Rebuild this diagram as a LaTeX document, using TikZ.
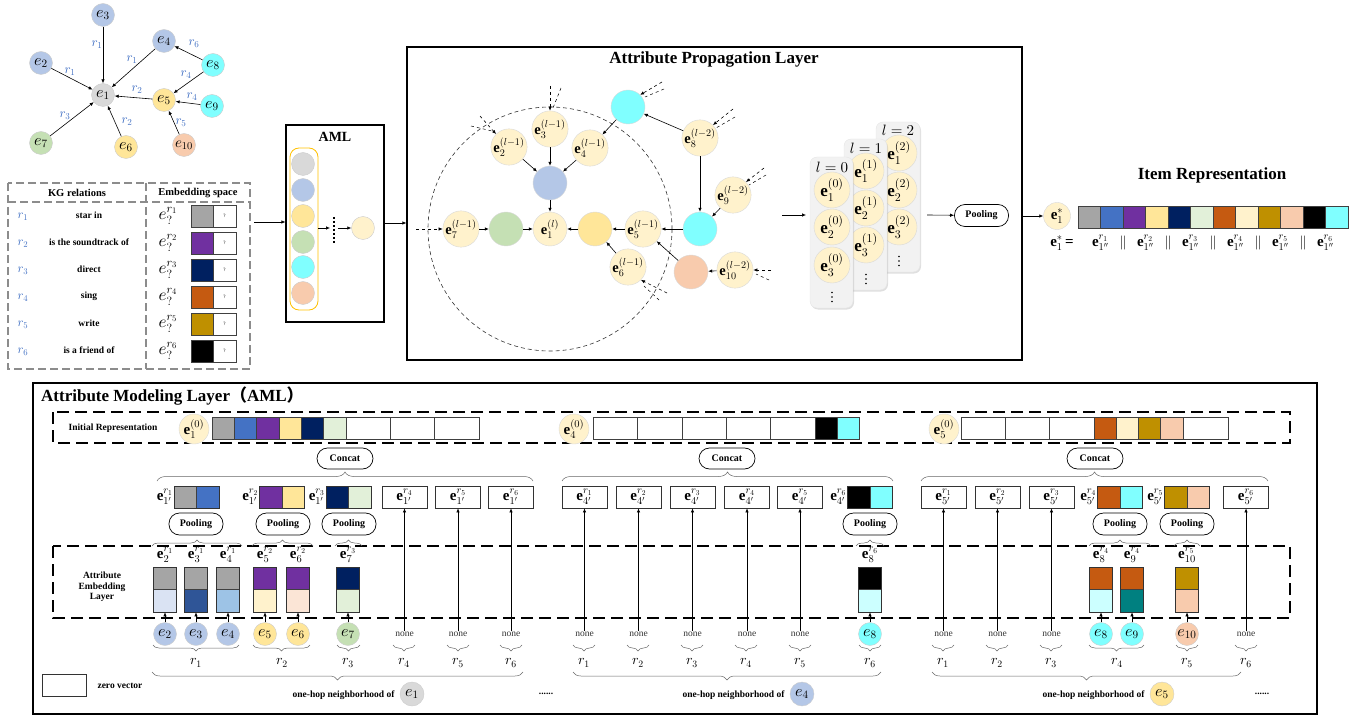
\documentclass[tikz,border=0pt]{standalone}
\usepackage{fontspec}
\setmainfont{Liberation Serif}
\newfontfamily\cjk{Noto Sans CJK SC}
\DeclareFontShape{OML}{cmm}{m}{it}{<->cmmi10}{}
\DeclareFontShape{OML}{cmm}{b}{it}{<->cmmib10}{}
\DeclareFontShape{OT1}{cmr}{m}{n}{<->cmr10}{}
\DeclareFontShape{OT1}{cmr}{bx}{n}{<->cmbx10}{}
\DeclareFontShape{OMS}{cmsy}{m}{n}{<->cmsy10}{}
\DeclareFontShape{OMX}{cmex}{m}{n}{<->cmex10}{}
\usetikzlibrary{arrows.meta,decorations.pathreplacing,shadows}
\definecolor{cgray}{HTML}{A5A5A5}
\definecolor{cblue}{HTML}{4472C4}
\definecolor{cpurple}{HTML}{7030A0}
\definecolor{cyel}{HTML}{FFE699}
\definecolor{cnavy}{HTML}{002060}
\definecolor{cltgreen}{HTML}{E2F0D9}
\definecolor{corange}{HTML}{C55A11}
\definecolor{cltyel}{HTML}{FFF2CC}
\definecolor{cgold}{HTML}{BF9000}
\definecolor{csalmon}{HTML}{F8CBAD}
\definecolor{ccyan}{HTML}{80FFFF}
\definecolor{ngray}{HTML}{D9D9D9}
\definecolor{nblue}{HTML}{B4C7E7}
\definecolor{ngreen}{HTML}{C5E0B4}
\definecolor{rblue}{HTML}{4472C4}
\definecolor{blA}{HTML}{DAE3F3}
\definecolor{blB}{HTML}{2F5597}
\definecolor{blC}{HTML}{9DC3E6}
\definecolor{pkA}{HTML}{FBE5D6}
\definecolor{ltcyan}{HTML}{CCFFFF}
\definecolor{tealB}{HTML}{008080}
\definecolor{stackbg}{HTML}{F2F2F2}
\definecolor{amlyel}{HTML}{FFC000}
\tikzset{
 arr/.style={-{Latex[length=4pt,width=3.4pt]},line width=0.6pt},
 kgn/.style={circle,minimum size=23pt,inner sep=0pt,draw=black!20,line width=0.4pt,font=\fontsize{16}{16}\selectfont},
 rl/.style={text=rblue,font=\fontsize{13}{13}\selectfont,inner sep=0pt},
 apn/.style={circle,minimum size=34pt,inner sep=0pt,draw=black!15,line width=0.4pt,fill=cltyel,font=\fontsize{14.5}{14.5}\selectfont},
 stn/.style={circle,minimum size=36pt,inner sep=0pt,draw=black!15,line width=0.4pt,fill=cltyel,font=\fontsize{17}{17}\selectfont},
 stk/.style={fill=stackbg,draw=black!10,line width=0.4pt,rounded corners=7pt,drop shadow={shadow xshift=1pt,shadow yshift=-1.5pt,opacity=0.25}},
 poolbox/.style={draw,line width=0.7pt,rounded corners=10.5pt,minimum width=54pt,minimum height=22pt,inner sep=0pt,font=\bfseries\fontsize{10}{10}\selectfont},
 concatbox/.style={draw,line width=0.7pt,rounded corners=10.5pt,minimum width=56pt,minimum height=21pt,inner sep=0pt,font=\bfseries\fontsize{10}{10}\selectfont},
 wbox/.style={draw=black!80,line width=0.7pt,minimum width=45pt,minimum height=22pt,inner sep=0pt,font=\fontsize{15}{15}\selectfont},
 pbox/.style={draw=black!80,line width=0.7pt,minimum width=45pt,minimum height=22pt,inner sep=0pt},
 cellline/.style={draw=black!75,line width=0.6pt},
 dbox/.style={dash pattern=on 12pt off 6pt,line width=1.8pt},
 tbl/.style={draw=black!45,dash pattern=on 8pt off 4pt,line width=1.2pt},
 brup/.style={decorate,decoration={brace,amplitude=#1},draw=black!60,line width=0.5pt},
 brdn/.style={decorate,decoration={brace,amplitude=#1,mirror},draw=black!60,line width=0.5pt},
 lab/.style={font=\fontsize{15}{15}\selectfont,inner sep=1pt},
 nonet/.style={font=\fontsize{9.5}{9.5}\selectfont,text=black!80,inner sep=1pt},
 rlab/.style={font=\fontsize{14}{14}\selectfont,inner sep=0pt},
 hdr/.style={font=\bfseries\fontsize{10.5}{10.5}\selectfont},
 rowt/.style={font=\bfseries\fontsize{9.5}{9.5}\selectfont},
 dsh/.style={dashed,line width=0.5pt},
 icirc/.style={circle,minimum size=30pt,inner sep=0pt,draw=black!15,fill=cltyel,font=\fontsize{15}{15}\selectfont},
}
\newcommand\pairbox[5]{%
 \fill[#4] ({#2-22.5},{#3-11}) rectangle (#2,{#3+11});
 \fill[#5] (#2,{#3-11}) rectangle ({#2+22.5},{#3+11});
 \draw[cellline] (#2,{#3-11}) -- (#2,{#3+11});
 \node[pbox] (#1) at (#2,#3) {};}
\newcommand\entbox[5]{%
 \fill[#3] ({#2-11.5},567) rectangle ({#2+11.5},589.5);
 \fill[#4] ({#2-11.5},589.5) rectangle ({#2+11.5},612);
 \draw[cellline] ({#2-11.5},589.5) -- ({#2+11.5},589.5);
 \node[draw=black!80,line width=0.6pt,minimum width=23pt,minimum height=45pt,inner sep=0pt] (#1) at (#2,589.5) {};
 \node[lab] (#1l) at (#2,555) {#5};}
\newcommand\vdotsat[2]{%
 \foreach \k in {-4.5,0,4.5} \fill ({#1},{#2+\k}) circle[radius=0.9];}
\begin{document}
\begin{tikzpicture}[x=1pt,y=-1pt]
\useasboundingbox (0,0) rectangle (1364,719);
% ================= top-left KG graph
\node[kgn,fill=ngray] (g1) at (103,95) {$e_1$};
\node[kgn,fill=nblue] (g2) at (41,63) {$e_2$};
\node[kgn,fill=nblue] (g3) at (103,15) {$e_3$};
\node[kgn,fill=nblue] (g4) at (164,41) {$e_4$};
\node[kgn,fill=cyel] (g5) at (164,100) {$e_5$};
\node[kgn,fill=cyel] (g6) at (126,147) {$e_6$};
\node[kgn,fill=ngreen] (g7) at (41,143) {$e_7$};
\node[kgn,fill=ccyan] (g8) at (213,65) {$e_8$};
\node[kgn,fill=ccyan] (g9) at (212,106) {$e_9$};
\node[kgn,fill=csalmon,font=\fontsize{15}{15}\selectfont] (g10) at (184,145) {$e_{10}$};
\draw[arr] (g3) -- (g1);
\draw[arr] (g2) -- (g1);
\draw[arr] (g4) -- (g1);
\draw[arr] (g5) -- (g1);
\draw[arr] (g7) -- (g1);
\draw[arr] (g6) -- (g1);
\draw[arr] (g8) -- (g4);
\draw[arr] (g8) -- (g5);
\draw[arr] (g9) -- (g5);
\draw[arr] (g10) -- (g5);
\node[rl] (l31) at (97,45) {$r_1$};
\node[rl] (l21) at (70,72) {$r_1$};
\node[rl] (l41) at (132,60) {$r_1$};
\node[rl] (l51) at (137,90) {$r_2$};
\node[rl] (l71) at (65,116) {$r_3$};
\node[rl] (l61) at (127,122) {$r_2$};
\node[rl] (l84) at (194,44) {$r_6$};
\node[rl] (l85) at (186,75) {$r_4$};
\node[rl] (l95) at (192,97) {$r_4$};
\node[rl] (l105) at (181,123) {$r_5$};
% ================= KG relations table
\draw[tbl] (8,183) rectangle (250,369);
\draw[tbl] (146,183) -- (146,369);
\draw[tbl] (8,202) -- (250,202);
\node[hdr] (h1) at (77,193) {KG relations};
\node[hdr] (h2) at (198,193) {Embedding space};
\foreach \y/\r/\t/\c in {216/1/star in/cgray,243/2/is the soundtrack of/cpurple,270/3/direct/cnavy,297/4/sing/corange,324/5/write/cgold,351/6/is a friend of/black} {
  \node[rl,font=\fontsize{12.5}{12.5}\selectfont] (tr\r) at (23,{\y+1}) {$r_{\r}$};
  \node[rowt] (tt\r) at (89,{\y-1}) {\t};
  \node[font=\fontsize{17}{17}\selectfont,inner sep=0pt] (te\r) at (168,\y) {$e_?^{r_{\r}}$};
  \fill[\c] (191,{\y-11}) rectangle (213,{\y+11});
  \draw[cellline] (191,{\y-11}) rectangle (236,{\y+11});
  \draw[cellline] (213,{\y-11}) -- (213,{\y+11});
  \node[font=\fontsize{5}{5}\selectfont,inner sep=0pt] (tq\r) at (224.5,\y) {?};
}
% ================= AML small box
\node[draw,line width=1.1pt,minimum width=98pt,minimum height=197pt,inner sep=0pt] (aml) at (335,223.5) {};
\node[font=\bfseries\fontsize{14}{14}\selectfont] (amlt) at (335,137) {AML};
\draw[amlyel,line width=0.8pt,rounded corners=9pt] (290,148) rectangle (318,310);
\foreach \y/\c [count=\i] in {164/ngray,190/nblue,216/cyel,242/ngreen,267/ccyan,293/csalmon}
  \node[kgn,fill=\c] (am\i) at (303,\y) {};
\coordinate (amA) at (318,228);
\coordinate (amB) at (330,228);
\draw[arr] (amA) -- (amB);
\draw[line width=2pt,dash pattern=on 2pt off 2pt] (334,217) -- (334,243);
\coordinate (amC) at (338,228);
\node[kgn,fill=cltyel] (amout) at (363,228) {};
\draw[arr] (amC) -- (amout);
\coordinate (tblout) at (254,222);
\draw[arr] (tblout) -- (tblout -| aml.west);
% ================= Attribute Propagation Layer
\node[draw,line width=1.1pt,minimum width=615pt,minimum height=313pt,inner sep=0pt] (apl) at (714.5,203.5) {};
\draw[arr] (aml.east |- 0,223) -- (apl.west |- 0,223);
\node[font=\bfseries\fontsize{17}{17}\selectfont] (aplt) at (714,59) {Attribute Propagation Layer};
\draw[dash pattern=on 4pt off 3pt,line width=0.6pt,black!80] (550,229) circle[radius=122];
\node[apn] (a3) at (550,129) {$\mathbf{e}_3^{(l-1)}$};
\node[apn] (a2) at (509,147) {$\mathbf{e}_2^{(l-1)}$};
\node[apn] (a4) at (590,148) {$\mathbf{e}_4^{(l-1)}$};
\node[apn,fill=nblue] (ab) at (550,183) {};
\node[apn] (a1) at (550,229) {$\mathbf{e}_1^{(l)}$};
\node[apn,fill=ngreen] (agr) at (506,229) {};
\node[apn] (a7) at (461,229) {$\mathbf{e}_7^{(l-1)}$};
\node[apn,fill=cyel] (ayl) at (595,229) {};
\node[apn] (a5) at (643,229) {$\mathbf{e}_5^{(l-1)}$};
\node[apn] (a6) at (628,267) {$\mathbf{e}_6^{(l-1)}$};
\node[apn,fill=ccyan] (acy1) at (628,107) {};
\node[apn] (a8) at (700,138) {$\mathbf{e}_8^{(l-2)}$};
\node[apn,fill=ccyan] (acy2) at (700,229) {};
\node[apn] (a9) at (733,195) {$\mathbf{e}_9^{(l-2)}$};
\node[apn,fill=csalmon] (asal) at (691,272) {};
\node[apn] (a10) at (735,270) {$\mathbf{e}_{10}^{(l-2)}$};
\draw[arr] (a2) -- (ab);
\draw[arr] (a3) -- (ab);
\draw[arr] (a4) -- (ab);
\draw[arr] (ab) -- (a1);
\draw[arr] (agr) -- (a1);
\draw[arr] (a7) -- (agr);
\draw[arr] (ayl) -- (a1);
\draw[arr] (a5) -- (ayl);
\draw[arr] (a6) -- (ayl);
\draw[arr] (acy1) -- (a4);
\draw[arr] (a8) -- (acy1);
\draw[arr] (a8) -- (acy2);
\draw[arr] (a9) -- (acy2);
\draw[arr] (acy2) -- (a5);
\draw[arr] (asal) -- (a5);
\draw[arr] (a10) -- (asal);
% dashed incoming
\coordinate (d3a) at (550,86); \coordinate (d3b) at (561,88); \coordinate (d3c) at (553,108);
\draw[dsh,arr] (d3a) -- (a3.north); \draw[dsh] (d3b) -- (d3c);
\coordinate (d2a) at (480,116); \coordinate (d2b) at (471,126); \coordinate (d2c) at (492,131);
\draw[dsh,arr] (d2a) -- (a2.north west); \draw[dsh] (d2b) -- (d2c);
\coordinate (d7a) at (416,229);
\draw[dsh,arr] (d7a) -- (a7.west);
\coordinate (d6a) at (667,293); \coordinate (d6b) at (659,300); \coordinate (d6c) at (644,286);
\draw[dsh,arr] (d6a) -- (a6.south east); \draw[dsh] (d6b) -- (d6c);
\coordinate (dca) at (662,82); \coordinate (dcb) at (664,89); \coordinate (dcc) at (645,97);
\draw[dsh,arr] (dca) -- (acy1.north east); \draw[dsh] (dcb) -- (dcc);
\coordinate (d8a) at (733,109); \coordinate (d8b) at (735,117); \coordinate (d8c) at (716,128);
\draw[dsh,arr] (d8a) -- (a8.north east); \draw[dsh] (d8b) -- (d8c);
\coordinate (d9a) at (764,168); \coordinate (d9b) at (766,175); \coordinate (d9c) at (749,185);
\draw[dsh,arr] (d9a) -- (a9.north east); \draw[dsh] (d9b) -- (d9c);
\coordinate (d10a) at (771,270); \coordinate (d10b) at (769,280); \coordinate (d10c) at (756,274);
\draw[dsh,arr] (d10a) -- (a10.east); \draw[dsh] (d10b) -- (d10c);
% layer stacks
\coordinate (sA) at (782,215); \coordinate (sB) at (806,215);
\draw[arr] (sA) -- (sB);
\node[stk,minimum width=44pt,minimum height=150pt,inner sep=0pt] (st2) at (898,197) {};
\node[font=\fontsize{15}{15}\selectfont,inner sep=0pt] (st2l) at (898,130) {$l=2$};
\node[stn] (s21) at (899,153) {$\mathbf{e}_1^{(2)}$};
\node[stn] (s22) at (899,190) {$\mathbf{e}_2^{(2)}$};
\node[stn] (s23) at (899,227) {$\mathbf{e}_3^{(2)}$};
\vdotsat{899}{261}
\node[stk,minimum width=43pt,minimum height=151pt,inner sep=0pt] (st1) at (865.5,214.5) {};
\node[font=\fontsize{15}{15}\selectfont,inner sep=0pt] (st1l) at (866,148) {$l=1$};
\node[stn] (s11) at (866,171) {$\mathbf{e}_1^{(1)}$};
\node[stn] (s12) at (866,208) {$\mathbf{e}_2^{(1)}$};
\node[stn] (s13) at (866,245) {$\mathbf{e}_3^{(1)}$};
\vdotsat{866}{279}
\node[stk,minimum width=43pt,minimum height=151pt,inner sep=0pt] (st0) at (831.5,232.5) {};
\node[font=\fontsize{15}{15}\selectfont,inner sep=0pt] (st0l) at (832,167) {$l=0$};
\node[stn] (s01) at (832,190) {$\mathbf{e}_1^{(0)}$};
\node[stn] (s02) at (832,227) {$\mathbf{e}_2^{(0)}$};
\node[stn] (s03) at (832,265) {$\mathbf{e}_3^{(0)}$};
\vdotsat{832}{297}
\coordinate (pA) at (927,215);
\node[poolbox] (ptop) at (981.5,215.5) {Pooling};
\draw[arr] (pA) -- (ptop);
% ================= Item representation
\node[circle,minimum size=27pt,inner sep=0pt,draw=black!15,line width=0.4pt,fill=cltyel,font=\fontsize{15}{15}\selectfont] (estar) at (1057,216) {$\mathbf{e}_1^{*}$};
\draw[arr] (apl.east |- estar) -- (estar);
\node[font=\bfseries\fontsize{17}{17}\selectfont] (itemt) at (1212,175) {Item Representation};
\foreach \c [count=\i from 0] in {cgray,cblue,cpurple,cyel,cnavy,cltgreen,corange,cltyel,cgold,csalmon,black,ccyan}
  \filldraw[fill=\c,cellline] ({1078+22.5*\i},206) rectangle ({1100.5+22.5*\i},228);
\node[font=\fontsize{15}{15}\selectfont] (feq) at (1062,243) {$\mathbf{e}_1^{*}$\,\textbf{=}};
\foreach \i in {1,...,6}
  \node[font=\fontsize{15}{15}\selectfont] (fe\i) at ({1100.5+45*(\i-1)},243) {$\mathbf{e}_{1''}^{r_{\i}}$};
\foreach \i in {1,...,5}
  \node[font=\fontsize{14}{14}\selectfont] (fb\i) at ({1123+45*(\i-1)},243) {$\|$};
% ================= Attribute Modeling Layer (bottom)
\node[draw,line width=1.1pt,minimum width=1284pt,minimum height=331pt,inner sep=0pt] (bot) at (675,548.5) {};
\node[anchor=west,font=\bfseries\fontsize{17}{17}\selectfont,inner sep=0pt] (bott) at (41,396) {Attribute Modeling Layer{\cjk （}AML{\cjk ）}};
\draw[dbox] (53,412) rectangle (1290,443);
\draw[dbox] (53,546) rectangle (1290,618);
\node[rowt] (irl) at (113,428) {Initial Representation};
\node[rowt,align=center] (ael) at (102,587) {Attribute\\[1pt]Embedding\\[1pt]Layer};
% initial representations
\node[icirc] (i1) at (194,429) {$\mathbf{e}_1^{(0)}$};
\node[icirc] (i4) at (574,429) {$\mathbf{e}_4^{(0)}$};
\node[icirc] (i5) at (944,429) {$\mathbf{e}_5^{(0)}$};
\foreach \c [count=\i from 0] in {cgray,cblue,cpurple,cyel,cnavy,cltgreen}
  \filldraw[fill=\c,cellline] ({212+22.33*\i},417) rectangle ({234.33+22.33*\i},439);
\foreach \i in {0,1,2}
  \draw[cellline] ({346+44.33*\i},417) rectangle ({390.33+44.33*\i},439);
\foreach \i in {0,...,4}
  \draw[cellline] ({593+44.4*\i},417) rectangle ({637.4+44.4*\i},439);
\filldraw[fill=black,cellline] (815,417) rectangle (837.2,439);
\filldraw[fill=ccyan,cellline] (837.2,417) rectangle (859.4,439);
\foreach \i in {0,1,2}
  \draw[cellline] ({961+44.33*\i},417) rectangle ({1005.33+44.33*\i},439);
\foreach \c [count=\i from 0] in {corange,cltyel,cgold,csalmon}
  \filldraw[fill=\c,cellline] ({1094+22.2*\i},417) rectangle ({1116.2+22.2*\i},439);
\draw[cellline] (1182.8,417) rectangle (1228,439);
% concat
\node[concatbox] (c1) at (345,458.5) {Concat};
\node[concatbox] (c2) at (727,458.5) {Concat};
\node[concatbox] (c3) at (1095,458.5) {Concat};
\draw[brup=9pt] (157,481) -- (533,481);
\draw[brup=9pt] (562,481) -- (893,481);
\draw[brup=9pt] (921,481) -- (1268,481);
% e' row
\pairbox{p1a}{196.5}{497}{cgray}{cblue}
\pairbox{p1b}{282}{497}{cpurple}{cyel}
\pairbox{p1c}{348.5}{497}{cnavy}{cltgreen}
\pairbox{p4f}{870}{497}{black}{ccyan}
\pairbox{p5d}{1120}{497}{corange}{ccyan}
\pairbox{p5e}{1187}{497}{cgold}{csalmon}
\node[lab,anchor=east,inner sep=0.5pt] (p1al) at (p1a.west) {$\mathbf{e}_{1'}^{r_1}$};
\node[lab,anchor=east,inner sep=0.5pt] (p1bl) at (p1b.west) {$\mathbf{e}_{1'}^{r_2}$};
\node[lab,anchor=east,inner sep=0.5pt] (p1cl) at (p1c.west) {$\mathbf{e}_{1'}^{r_3}$};
\node[lab,anchor=east,inner sep=0.5pt] (p4fl) at (p4f.west) {$\mathbf{e}_{4'}^{r_6}$};
\node[lab,anchor=east,inner sep=0.5pt] (p5dl) at (p5d.west) {$\mathbf{e}_{5'}^{r_4}$};
\node[lab,anchor=east,inner sep=0.5pt] (p5el) at (p5e.west) {$\mathbf{e}_{5'}^{r_5}$};
\foreach \n/\x/\s/\r in {w1d/404.5/1/4,w1e/458/1/5,w1f/511/1/6,w4a/584.5/4/1,w4b/638.5/4/2,w4c/692.5/4/3,w4d/747/4/4,w4e/800/4/5,w5a/943.5/5/1,w5b/997.5/5/2,w5c/1051.5/5/3,w5f/1246/5/6} {
  \node[wbox] (\n) at (\x,497) {$\mathbf{e}_{\s'}^{r_{\r}}$};
  \node[nonet] (\n n) at (\x,634) {none};
  \draw[arr] (\n n.north) -- (\n.south);
}
% pooling
\node[poolbox] (q1) at (196,524) {Pooling};
\node[poolbox] (q2) at (283,524) {Pooling};
\node[poolbox] (q3) at (349,524) {Pooling};
\node[poolbox] (q4) at (870,524) {Pooling};
\node[poolbox] (q5) at (1120,524) {Pooling};
\node[poolbox] (q6) at (1187,524) {Pooling};
\foreach \a/\b in {152/242,252/313,335/362,856/884,1089/1151,1174/1200}
  \draw[brup=6pt] (\a,546) -- (\b,546);
% attribute embeddings
\entbox{b12}{165}{cgray}{blA}{$\mathbf{e}_2^{r_1}$}
\entbox{b13}{196}{cgray}{blB}{$\mathbf{e}_3^{r_1}$}
\entbox{b14}{228}{cgray}{blC}{$\mathbf{e}_4^{r_1}$}
\entbox{b15}{265}{cpurple}{cltyel}{$\mathbf{e}_5^{r_2}$}
\entbox{b16}{298}{cpurple}{pkA}{$\mathbf{e}_6^{r_2}$}
\entbox{b17}{348}{cnavy}{cltgreen}{$\mathbf{e}_7^{r_3}$}
\entbox{b48}{870}{black}{ltcyan}{$\mathbf{e}_8^{r_6}$}
\entbox{b58}{1101}{corange}{ltcyan}{$\mathbf{e}_8^{r_4}$}
\entbox{b59}{1132}{corange}{tealB}{$\mathbf{e}_9^{r_4}$}
\entbox{b510}{1187}{cgold}{csalmon}{$\mathbf{e}_{10}^{r_5}$}
\foreach \n/\x/\c/\t in {b12/165/nblue/2,b13/196/nblue/3,b14/228/nblue/4,b15/265/cyel/5,b16/298/cyel/6,b17/348/ngreen/7,b48/870/ccyan/8,b58/1101/ccyan/8,b59/1132/ccyan/9,b510/1187/csalmon/10} {
  \node[kgn,fill=\c] (\n c) at (\x,634) {$e_{\t}$};
  \draw[arr] (\n c.north) -- (\n.south);
}
% relation braces
\foreach \a/\b/\x/\r in {153/239/196/1,253/310/282/2,337/360/348/3,393/415/404/4,447/469/458/5,500/522/511/6,
  573/595/584/1,627/649/638/2,681/703/692/3,735/757/746/4,789/811/800/5,859/881/870/6,
  932/954/943/1,986/1008/997/2,1040/1062/1051/3,1089/1144/1117/4,1176/1198/1187/5,1235/1257/1246/6} {
  \draw[brdn=6pt] (\a,645) -- (\b,645);
  \node[rlab] (rr\a) at (\x,663) {$r_{\r}$};
}
\draw[brdn=8pt] (152,672) -- (523,672);
\draw[brdn=8pt] (573,672) -- (881,672);
\draw[brdn=8pt] (932,672) -- (1241,672);
\node[kgn,fill=ngray,minimum size=24pt] (o1) at (412,694) {$e_1$};
\node[kgn,fill=nblue,minimum size=24pt] (o4) at (802,694) {$e_4$};
\node[kgn,fill=cyel,minimum size=24pt] (o5) at (1162,694) {$e_5$};
\node[rowt,anchor=east] (o1t) at (398,695) {one-hop neighborhood of};
\node[rowt,anchor=east] (o4t) at (788,695) {one-hop neighborhood of};
\node[rowt,anchor=east] (o5t) at (1148,695) {one-hop neighborhood of};
\node[rowt] (dotsA) at (546,694) {......};
\node[rowt] (dotsB) at (1262,694) {......};
% legend
\node[draw=black!80,line width=0.7pt,minimum width=44pt,minimum height=22pt,inner sep=0pt] (zv) at (64,685) {};
\node[rowt,anchor=west] (zvt) at (94,686) {zero vector};
\end{tikzpicture}
\end{document}
